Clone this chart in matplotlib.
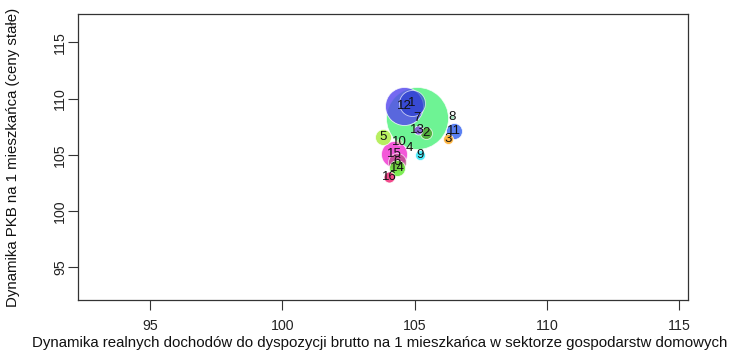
import matplotlib
matplotlib.use("Agg")
import matplotlib.pyplot as plt
import numpy as np

plt.rcParams['font.family'] = ['Liberation Sans', 'DejaVu Sans']

# Region ids (województwa)
labels = [str(i) for i in range(1, 17)]
# Dynamika realnych dochodów do dyspozycji brutto na 1 mieszkańca
dochody = [104.89, 105.42, 106.28, 104.81, 103.81, 104.32, 105.10, 106.42,
           105.20, 104.42, 106.50, 104.61, 105.11, 104.34, 104.23, 104.03]
# Dynamika PKB na 1 mieszkańca (ceny stałe)
pkb = [109.58, 106.96, 106.38, 105.58, 106.56, 104.39, 108.24, 108.39,
       104.98, 106.16, 107.14, 109.36, 107.20, 103.80, 105.04, 103.00]
# Bubble size variable (relative radius)
rozmiar = [13, 6, 5, 2, 8, 9, 31, 2, 5, 3, 8, 19, 4.5, 8, 13, 5.5]

colors = ['#2a3fd0', '#4f9f2a', '#ffaa22', '#d8d890', '#a6ec3a', '#b04a80',
          '#3ef070', '#55cc88', '#30e8f8', '#e0e0a0', '#3d6af0', '#5548ee',
          '#8a4ce0', '#5de82a', '#f030d0', '#f02a78']
alphas = [0.7, 0.8, 0.85, 0.5, 0.8, 0.7, 0.75, 0.5, 0.85, 0.5, 0.85, 0.82,
          0.85, 0.8, 0.8, 0.85]

fig = plt.figure(figsize=(7.34, 3.54), dpi=100)
ax = fig.add_axes([77.7/734, 54/354, (687.7-77.7)/734, (300-14)/354])

px2pt = 72/100
order = np.argsort(rozmiar)[::-1]
for i in order:
    s = (2*rozmiar[i]*px2pt)**2
    ax.scatter(dochody[i], pkb[i], s=s, color=colors[i], alpha=alphas[i],
               edgecolors='white', linewidths=0.6, zorder=2)
for i in range(len(labels)):
    ax.text(dochody[i], pkb[i], labels[i], ha='center', va='center',
            fontsize=9.5, color='#111111', zorder=3)

ax.set_xlim(92.27, 115.32)
ax.set_ylim(92.09, 117.52)
ax.set_xticks([95, 100, 105, 110, 115])
ax.set_yticks([95, 100, 105, 110, 115])
ax.tick_params(axis='both', direction='out', length=7, width=0.8,
               color='#333333', labelsize=10.2, labelcolor='#222222')
ax.tick_params(axis='x', pad=6.5)
ax.tick_params(axis='y', pad=0.5)
for lab in ax.get_yticklabels():
    lab.set_rotation(90)
    lab.set_va('center')
for sp in ax.spines.values():
    sp.set_color('#333333')
    sp.set_linewidth(0.9)

fig.text(380/734, 1-343/354, 'Dynamika realnych dochodów do dyspozycji brutto na 1 mieszkańca w sektorze gospodarstw domowych',
         ha='center', va='center', fontsize=10.8, color='#111111')
fig.text(13/734, 1-157/354, 'Dynamika PKB na 1 mieszkańca (ceny stałe)',
         ha='center', va='center', rotation=90, fontsize=10.8, color='#111111')

fig.savefig('out.png', dpi=100)
